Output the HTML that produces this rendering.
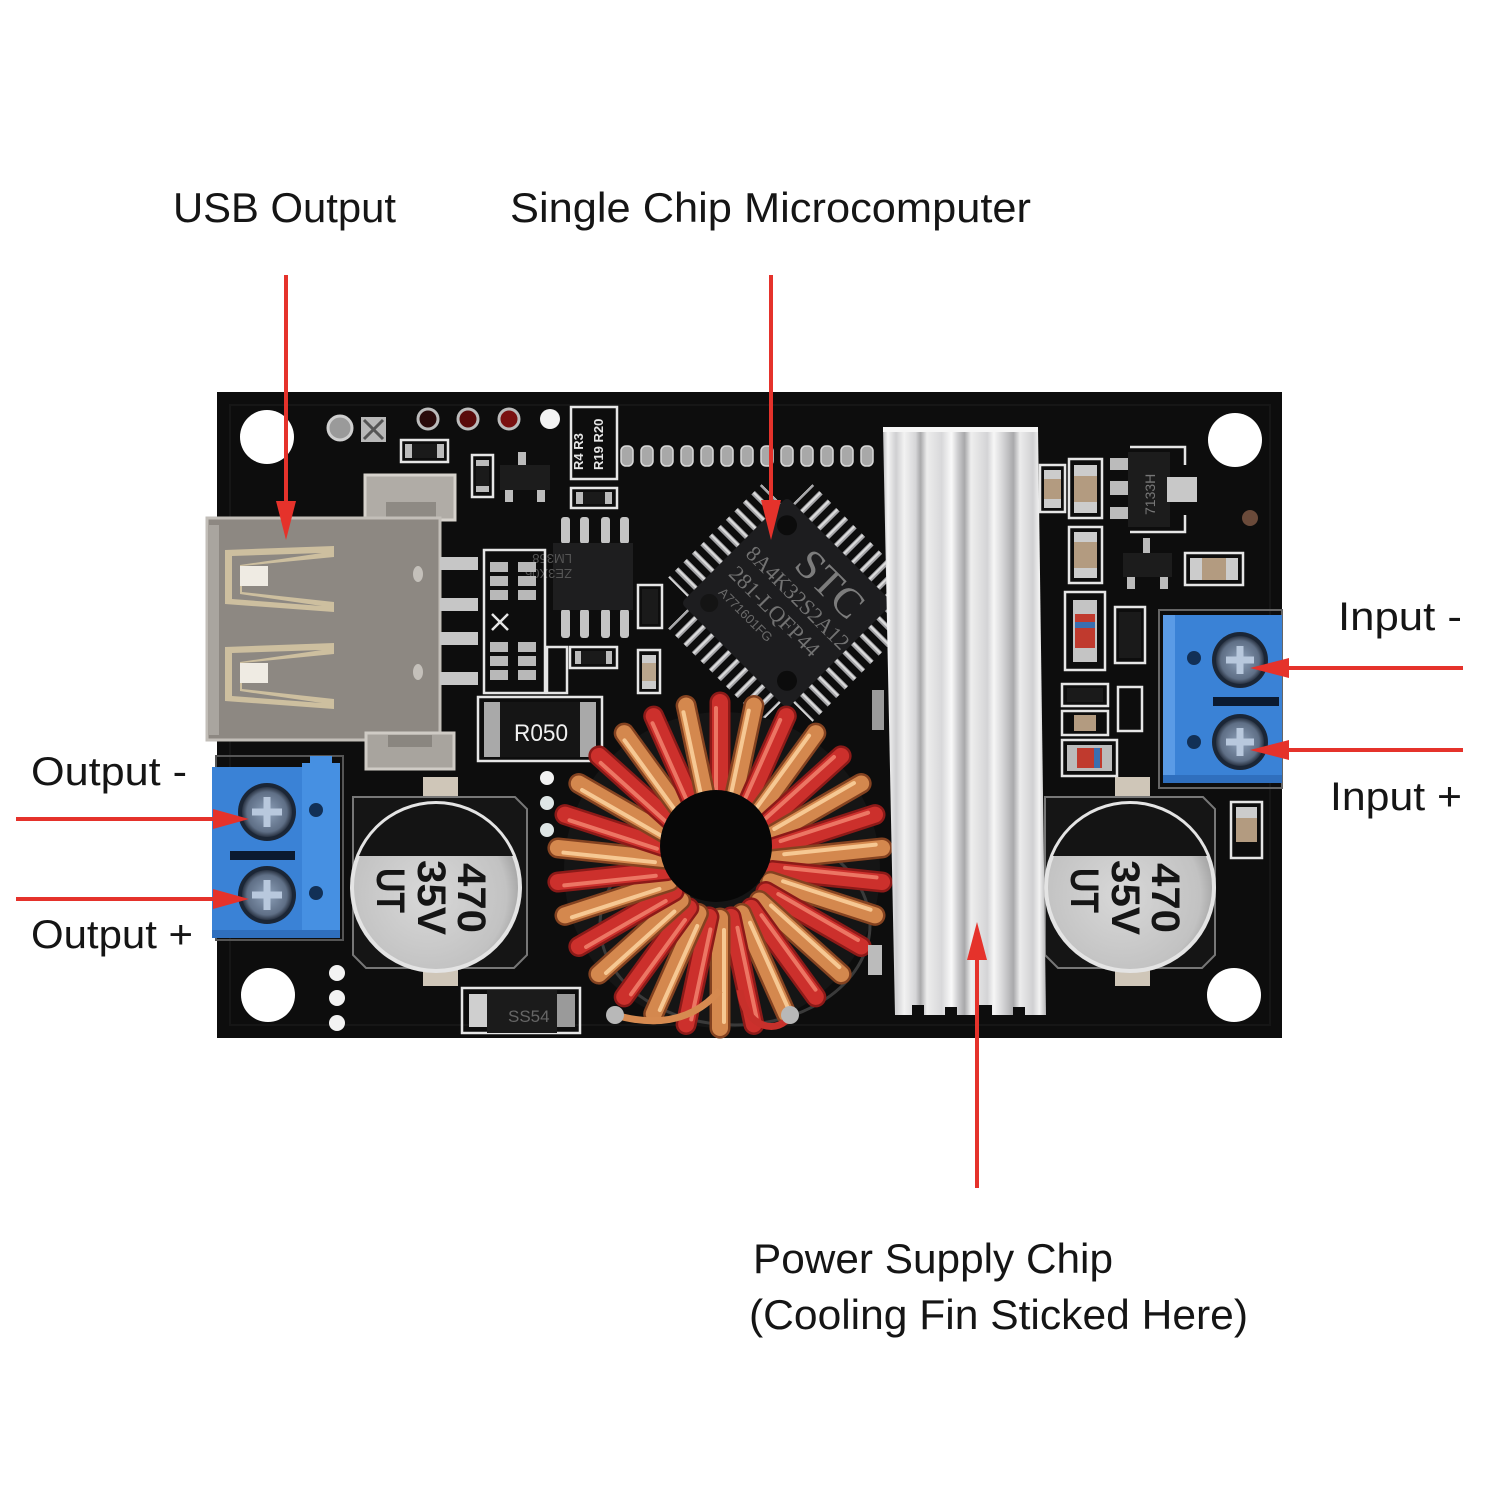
<!DOCTYPE html>
<html><head><meta charset="utf-8">
<style>
html,body{margin:0;padding:0;background:#ffffff;}
svg{display:block;}
.lbl{font-family:"Liberation Sans",Arial,sans-serif;fill:#151515;}
.silk{fill:none;stroke:#e6e6e6;stroke-width:2.5;}
.mono{font-family:"Liberation Sans",Arial,sans-serif;}
</style></head>
<body>
<svg width="1500" height="1500" viewBox="0 0 1500 1500" xmlns="http://www.w3.org/2000/svg">
<defs>
  <linearGradient id="hs" x1="883" y1="0" x2="1046" y2="0" gradientUnits="userSpaceOnUse">
    <stop offset="0" stop-color="#bdbdbf"/>
    <stop offset="0.03" stop-color="#f4f4f4"/>
    <stop offset="0.08" stop-color="#cfcfd1"/>
    <stop offset="0.13" stop-color="#f2f2f2"/>
    <stop offset="0.2" stop-color="#d6d6d8"/>
    <stop offset="0.23" stop-color="#a9a9ab"/>
    <stop offset="0.27" stop-color="#ededed"/>
    <stop offset="0.36" stop-color="#d8d8da"/>
    <stop offset="0.42" stop-color="#fafafa"/>
    <stop offset="0.46" stop-color="#cdcdcf"/>
    <stop offset="0.5" stop-color="#a8a8aa"/>
    <stop offset="0.54" stop-color="#eeeeee"/>
    <stop offset="0.64" stop-color="#d4d4d6"/>
    <stop offset="0.68" stop-color="#f6f6f6"/>
    <stop offset="0.74" stop-color="#d2d2d4"/>
    <stop offset="0.8" stop-color="#a9a9ab"/>
    <stop offset="0.84" stop-color="#ececec"/>
    <stop offset="0.92" stop-color="#d0d0d2"/>
    <stop offset="0.96" stop-color="#f3f3f3"/>
    <stop offset="1" stop-color="#b5b5b7"/>
  </linearGradient>
  <radialGradient id="capg" cx="0.45" cy="0.55" r="0.6">
    <stop offset="0" stop-color="#d8d8d8"/>
    <stop offset="0.8" stop-color="#c2c2c2"/>
    <stop offset="1" stop-color="#9a9a9a"/>
  </radialGradient>
  <radialGradient id="screw" cx="0.5" cy="0.5" r="0.5">
    <stop offset="0" stop-color="#8fa2bb"/>
    <stop offset="0.8" stop-color="#5f6f86"/>
    <stop offset="1" stop-color="#2a3444"/>
  </radialGradient>
  <pattern id="pinV" width="12" height="40" patternUnits="userSpaceOnUse">
    <rect x="3.5" y="0" width="5" height="40" fill="#a5a5a8"/>
    <rect x="4.5" y="0" width="2" height="40" fill="#dcdcdc"/>
  </pattern>
  <pattern id="pinH" width="40" height="12" patternUnits="userSpaceOnUse">
    <rect x="0" y="3.5" width="40" height="5" fill="#a5a5a8"/>
    <rect x="0" y="4.5" width="40" height="2" fill="#dcdcdc"/>
  </pattern>
  <clipPath id="capL"><circle cx="436" cy="887" r="83"/></clipPath>
  <clipPath id="capR"><circle cx="1130" cy="887" r="83"/></clipPath>
  <g id="wR">
    <line x1="720" y1="812" x2="720" y2="702" stroke="#8c1a18" stroke-width="21" stroke-linecap="round"/>
    <line x1="720" y1="812" x2="720" y2="702" stroke="#cc302c" stroke-width="16" stroke-linecap="round"/>
    <line x1="716" y1="800" x2="716" y2="708" stroke="#ec7664" stroke-width="4" stroke-linecap="round"/>
  </g>
  <g id="wC">
    <line x1="720" y1="812" x2="720" y2="702" stroke="#844220" stroke-width="21" stroke-linecap="round"/>
    <line x1="720" y1="812" x2="720" y2="702" stroke="#d4884e" stroke-width="16" stroke-linecap="round"/>
    <line x1="716" y1="800" x2="716" y2="708" stroke="#f6c893" stroke-width="4" stroke-linecap="round"/>
  </g>
</defs>

<rect width="1500" height="1500" fill="#ffffff"/>

<!-- PCB -->
<rect x="217" y="392" width="1065" height="646" fill="#0d0d0d"/>
<path d="M230 405 H1270 V1025 H230 Z" fill="none" stroke="#161616" stroke-width="2"/>

<!-- mounting holes -->
<circle cx="267" cy="437" r="27" fill="#ffffff"/>
<circle cx="1235" cy="440" r="27" fill="#ffffff"/>
<circle cx="268" cy="995" r="27" fill="#ffffff"/>
<circle cx="1234" cy="995" r="27" fill="#ffffff"/>

<!-- top-left small parts -->
<circle cx="340" cy="428" r="12" fill="#9a9a9a" stroke="#cfcfcf" stroke-width="3"/>
<rect x="361" y="417" width="25" height="25" fill="#b8b8b8"/>
<path d="M364 420 L383 439 M383 420 L364 439" stroke="#555" stroke-width="3"/>
<circle cx="428" cy="419" r="10" fill="#2a0a0a" stroke="#bbb" stroke-width="3"/>
<circle cx="468" cy="419" r="10" fill="#5a0a0a" stroke="#bbb" stroke-width="3"/>
<circle cx="509" cy="419" r="10" fill="#7a1010" stroke="#bbb" stroke-width="3"/>
<circle cx="550" cy="419" r="10" fill="#f4f4f4"/>
<rect x="401" y="440" width="47" height="22" class="silk"/>
<rect x="405" y="444" width="39" height="14" fill="#1a1a1a"/>
<rect x="405" y="444" width="7" height="14" fill="#bbb"/><rect x="437" y="444" width="7" height="14" fill="#bbb"/>
<rect x="472" y="455" width="21" height="42" class="silk"/>
<rect x="476" y="460" width="13" height="32" fill="#1a1a1a"/>
<rect x="476" y="460" width="13" height="6" fill="#bbb"/><rect x="476" y="486" width="13" height="6" fill="#bbb"/>
<rect x="500" y="465" width="50" height="25" fill="#1c1c1c"/>
<rect x="518" y="452" width="8" height="13" fill="#bbb"/>
<rect x="505" y="490" width="8" height="12" fill="#bbb"/><rect x="537" y="490" width="8" height="12" fill="#bbb"/>
<rect x="571" y="407" width="46" height="72" class="silk"/>
<text x="583" y="470" transform="rotate(-90 583 470)" class="mono" font-size="13" font-weight="bold" fill="#e6e6e6">R4 R3</text>
<text x="603" y="470" transform="rotate(-90 603 470)" class="mono" font-size="13" font-weight="bold" fill="#e6e6e6">R19 R20</text>
<rect x="571" y="488" width="46" height="20" class="silk"/>
<rect x="576" y="492" width="36" height="12" fill="#1a1a1a"/>
<rect x="576" y="492" width="7" height="12" fill="#bbb"/><rect x="605" y="492" width="7" height="12" fill="#bbb"/>

<!-- header pins -->
<g fill="#a8a8a8" stroke="#d8d8d8" stroke-width="1.5">
<rect x="621" y="446" width="12" height="20" rx="5"/>
<rect x="641" y="446" width="12" height="20" rx="5"/>
<rect x="661" y="446" width="12" height="20" rx="5"/>
<rect x="681" y="446" width="12" height="20" rx="5"/>
<rect x="701" y="446" width="12" height="20" rx="5"/>
<rect x="721" y="446" width="12" height="20" rx="5"/>
<rect x="741" y="446" width="12" height="20" rx="5"/>
<rect x="761" y="446" width="12" height="20" rx="5"/>
<rect x="781" y="446" width="12" height="20" rx="5"/>
<rect x="801" y="446" width="12" height="20" rx="5"/>
<rect x="821" y="446" width="12" height="20" rx="5"/>
<rect x="841" y="446" width="12" height="20" rx="5"/>
<rect x="861" y="446" width="12" height="20" rx="5"/>
</g>

<!-- LM358 -->
<g fill="#c4c4c4">
<rect x="561" y="517" width="9" height="27" rx="3"/><rect x="580" y="517" width="9" height="27" rx="3"/>
<rect x="601" y="517" width="9" height="27" rx="3"/><rect x="620" y="517" width="9" height="27" rx="3"/>
<rect x="561" y="609" width="9" height="29" rx="3"/><rect x="580" y="609" width="9" height="29" rx="3"/>
<rect x="601" y="609" width="9" height="29" rx="3"/><rect x="620" y="609" width="9" height="29" rx="3"/>
</g>
<rect x="553" y="543" width="80" height="67" fill="#1e1e1f"/>
<text x="620" y="600" transform="rotate(180 596 577)" class="mono" font-size="13" fill="#555">LM358</text>
<text x="620" y="585" transform="rotate(180 596 577)" class="mono" font-size="13" fill="#555">ZE3X06</text>

<!-- resistor arrays left of LM358 -->
<rect x="484" y="550" width="61" height="143" class="silk"/>
<g fill="#b8b8b8">
<rect x="490" y="562" width="18" height="10"/><rect x="490" y="576" width="18" height="10"/><rect x="490" y="590" width="18" height="10"/>
<rect x="518" y="562" width="18" height="10"/><rect x="518" y="576" width="18" height="10"/><rect x="518" y="590" width="18" height="10"/>
<rect x="490" y="642" width="18" height="10"/><rect x="490" y="656" width="18" height="10"/><rect x="490" y="670" width="18" height="10"/>
<rect x="518" y="642" width="18" height="10"/><rect x="518" y="656" width="18" height="10"/><rect x="518" y="670" width="18" height="10"/>
</g>
<path d="M492 614 L508 630 M508 614 L492 630" stroke="#e6e6e6" stroke-width="2.5"/>
<rect x="547" y="647" width="20" height="46" class="silk"/>
<rect x="570" y="647" width="47" height="21" class="silk"/>
<rect x="575" y="651" width="37" height="13" fill="#1a1a1a"/>
<rect x="575" y="651" width="6" height="13" fill="#bbb"/><rect x="606" y="651" width="6" height="13" fill="#bbb"/>
<rect x="638" y="585" width="24" height="43" class="silk"/>
<rect x="642" y="589" width="16" height="35" fill="#1a1a1a"/>
<rect x="638" y="650" width="22" height="43" class="silk"/>
<rect x="642" y="655" width="14" height="34" fill="#b9a58c"/>
<rect x="642" y="655" width="14" height="8" fill="#ccc"/><rect x="642" y="681" width="14" height="8" fill="#ccc"/>

<!-- USB top metal tab -->
<rect x="365" y="475" width="90" height="45" fill="#b0aca6" stroke="#d6d2cc" stroke-width="3"/>
<rect x="386" y="502" width="50" height="18" fill="#8e8a84"/>

<!-- USB connector -->
<rect x="207" y="518" width="233" height="222" fill="#8d8882" stroke="#c2beb8" stroke-width="3"/>
<rect x="209" y="525" width="10" height="210" fill="#a9a59f"/>
<polygon points="225,550 334,546 334,557 242,566 242,592 334,602 334,612 225,604" fill="#cdbf9f"/>
<polygon points="232,556 322,553 240,565 240,594 322,606 232,599" fill="#8d8882"/>
<rect x="240" y="566" width="28" height="20" fill="#efebe3"/>
<polygon points="225,647 334,643 334,654 242,663 242,689 334,699 334,709 225,701" fill="#cdbf9f"/>
<polygon points="232,653 322,650 240,662 240,691 322,703 232,696" fill="#8d8882"/>
<rect x="240" y="663" width="28" height="20" fill="#efebe3"/>
<ellipse cx="418" cy="574" rx="5" ry="8" fill="#c4c0ba"/>
<ellipse cx="418" cy="672" rx="5" ry="8" fill="#c4c0ba"/>
<g fill="#c6c6c6">
<rect x="440" y="557" width="38" height="13"/><rect x="440" y="598" width="38" height="13"/>
<rect x="440" y="632" width="38" height="13"/><rect x="440" y="672" width="38" height="13"/>
</g>
<!-- USB bottom tab -->
<rect x="366" y="733" width="88" height="36" fill="#a8a49e" stroke="#cfcbc5" stroke-width="3"/>
<rect x="388" y="735" width="44" height="12" fill="#8a8680"/>

<!-- R050 -->
<rect x="478" y="697" width="124" height="64" class="silk"/>
<rect x="484" y="702" width="112" height="55" fill="#151515"/>
<rect x="484" y="702" width="16" height="55" fill="#a9a9a9"/><rect x="580" y="702" width="16" height="55" fill="#a9a9a9"/>
<text x="514" y="741" class="mono" font-size="24" fill="#f0f0f0" textLength="54" lengthAdjust="spacingAndGlyphs">R050</text>

<!-- left terminal block -->
<rect x="216" y="756" width="127" height="184" fill="none" stroke="#555" stroke-width="2"/>
<rect x="212" y="767" width="92" height="170" fill="#3a82d6"/>
<rect x="302" y="763" width="38" height="174" fill="#4690e2"/>
<rect x="310" y="756" width="22" height="12" fill="#4690e2"/>
<rect x="212" y="930" width="128" height="8" fill="#2f6fbe"/>
<circle cx="267" cy="812" r="29" fill="#1b2636"/>
<circle cx="267" cy="812" r="25" fill="url(#screw)"/>
<path d="M252 812 H282 M267 797 V827" stroke="#b8c8dd" stroke-width="7"/>
<circle cx="267" cy="895" r="29" fill="#1b2636"/>
<circle cx="267" cy="895" r="25" fill="url(#screw)"/>
<path d="M252 895 H282 M267 880 V910" stroke="#b8c8dd" stroke-width="7"/>
<rect x="230" y="851" width="65" height="9" fill="#0b1a30"/>
<circle cx="316" cy="810" r="7" fill="#123056"/>
<circle cx="316" cy="893" r="7" fill="#123056"/>

<!-- right terminal block -->
<rect x="1159" y="610" width="123" height="178" fill="none" stroke="#666" stroke-width="2"/>
<rect x="1163" y="615" width="119" height="168" fill="#3a82d6"/>
<rect x="1163" y="615" width="12" height="168" fill="#5a9be6"/>
<rect x="1163" y="775" width="119" height="8" fill="#2f6fbe"/>
<circle cx="1240" cy="660" r="28" fill="#1b2636"/>
<circle cx="1240" cy="660" r="24" fill="url(#screw)"/>
<path d="M1226 660 H1254 M1240 646 V674" stroke="#b8c8dd" stroke-width="7"/>
<circle cx="1240" cy="742" r="28" fill="#1b2636"/>
<circle cx="1240" cy="742" r="24" fill="url(#screw)"/>
<path d="M1226 742 H1254 M1240 728 V756" stroke="#b8c8dd" stroke-width="7"/>
<rect x="1213" y="697" width="66" height="9" fill="#0b1a30"/>
<circle cx="1194" cy="658" r="7" fill="#123056"/>
<circle cx="1194" cy="742" r="7" fill="#123056"/>

<!-- capacitors -->
<rect x="423" y="777" width="35" height="22" fill="#cfc6b8"/>
<rect x="423" y="966" width="35" height="20" fill="#cfc6b8"/>
<polygon points="353,797 515,797 527,809 527,955 514,968 366,968 353,955" fill="#151515" stroke="#777" stroke-width="2"/>
<circle cx="436" cy="887" r="86" fill="#e4e4e4"/>
<circle cx="436" cy="887" r="82" fill="url(#capg)"/>
<rect x="340" y="790" width="200" height="66" fill="#141414" clip-path="url(#capL)"/>
<g transform="translate(436 887) rotate(90)" font-family="Liberation Sans,Arial,sans-serif" font-weight="bold" font-size="40" fill="#151515">
  <text x="-24" y="-22" textLength="70" lengthAdjust="spacingAndGlyphs">470</text>
  <text x="-27" y="18" textLength="75" lengthAdjust="spacingAndGlyphs">35V</text>
  <text x="-19" y="59" textLength="45" lengthAdjust="spacingAndGlyphs">UT</text>
</g>

<rect x="1115" y="777" width="35" height="22" fill="#cfc6b8"/>
<rect x="1115" y="966" width="35" height="20" fill="#cfc6b8"/>
<polygon points="1045,797 1203,797 1215,809 1215,955 1202,968 1058,968 1045,955" fill="#151515" stroke="#777" stroke-width="2"/>
<circle cx="1130" cy="887" r="86" fill="#e4e4e4"/>
<circle cx="1130" cy="887" r="82" fill="url(#capg)"/>
<rect x="1030" y="790" width="200" height="66" fill="#141414" clip-path="url(#capR)"/>
<g transform="translate(1130 887) rotate(90)" font-family="Liberation Sans,Arial,sans-serif" font-weight="bold" font-size="40" fill="#151515">
  <text x="-24" y="-22" textLength="70" lengthAdjust="spacingAndGlyphs">470</text>
  <text x="-27" y="18" textLength="75" lengthAdjust="spacingAndGlyphs">35V</text>
  <text x="-19" y="59" textLength="45" lengthAdjust="spacingAndGlyphs">UT</text>
</g>

<!-- white dots -->
<circle cx="547" cy="778" r="7" fill="#f2f2f2"/>
<circle cx="547" cy="803" r="7" fill="#dfe6e6"/>
<circle cx="547" cy="830" r="7" fill="#dfe6e6"/>
<circle cx="337" cy="973" r="8" fill="#f2f2f2"/>
<circle cx="337" cy="998" r="8" fill="#f2f2f2"/>
<circle cx="337" cy="1023" r="8" fill="#f2f2f2"/>

<!-- SS54 -->
<rect x="462" y="988" width="118" height="45" class="silk"/>
<rect x="469" y="994" width="18" height="33" fill="#cfcfcf"/>
<rect x="487" y="990" width="70" height="43" fill="#1b1b1b"/>
<rect x="557" y="994" width="18" height="33" fill="#9a9a9a"/>
<text x="508" y="1022" class="mono" font-size="17" fill="#666">SS54</text>

<!-- STC chip -->
<g transform="translate(787 603) rotate(45)">
  <rect x="-66" y="-102" width="132" height="30" fill="url(#pinV)"/>
  <rect x="-66" y="72" width="132" height="30" fill="url(#pinV)"/>
  <rect x="-102" y="-66" width="30" height="132" fill="url(#pinH)"/>
  <rect x="72" y="-66" width="30" height="132" fill="url(#pinH)"/>
  <rect x="-75" y="-75" width="150" height="150" rx="5" fill="#1d1d1f"/>
  <circle cx="-55" cy="-55" r="10" fill="#0c0c0c"/>
  <circle cx="-55" cy="55" r="9" fill="#141414"/>
  <circle cx="55" cy="55" r="10" fill="#0c0c0c"/>
  <text x="-22" y="-30" font-family="Liberation Serif,serif" font-size="42" fill="#7c7c7c" textLength="78" lengthAdjust="spacingAndGlyphs">STC</text>
  <text x="-64" y="-4" font-family="Liberation Serif,serif" font-size="22" fill="#727272" textLength="136" lengthAdjust="spacingAndGlyphs">8A4K32S2A12</text>
  <text x="-62" y="22" font-family="Liberation Serif,serif" font-size="22" fill="#727272" textLength="118" lengthAdjust="spacingAndGlyphs">281-LQFP44</text>
  <text x="-56" y="42" font-family="Liberation Sans,sans-serif" font-size="13" fill="#6a6a6a" textLength="70" lengthAdjust="spacingAndGlyphs">A771601FG</text>
</g>

<!-- toroid inductor -->
<circle cx="722" cy="870" r="158" fill="#151515"/>
<ellipse cx="735" cy="925" rx="135" ry="100" fill="none" stroke="#3a3a3a" stroke-width="3"/>
<use href="#wR" transform="rotate(0 720 865)"/>
<use href="#wC" transform="rotate(12 720 865)"/>
<use href="#wR" transform="rotate(24 720 865)"/>
<use href="#wC" transform="rotate(36 720 865)"/>
<use href="#wR" transform="rotate(48 720 865)"/>
<use href="#wC" transform="rotate(60 720 865)"/>
<use href="#wR" transform="rotate(72 720 865)"/>
<use href="#wC" transform="rotate(84 720 865)"/>
<use href="#wR" transform="rotate(96 720 865)"/>
<use href="#wC" transform="rotate(108 720 865)"/>
<use href="#wR" transform="rotate(120 720 865)"/>
<use href="#wC" transform="rotate(132 720 865)"/>
<use href="#wR" transform="rotate(144 720 865)"/>
<use href="#wC" transform="rotate(156 720 865)"/>
<use href="#wR" transform="rotate(168 720 865)"/>
<use href="#wC" transform="rotate(180 720 865)"/>
<use href="#wR" transform="rotate(192 720 865)"/>
<use href="#wC" transform="rotate(204 720 865)"/>
<use href="#wR" transform="rotate(216 720 865)"/>
<use href="#wC" transform="rotate(228 720 865)"/>
<use href="#wR" transform="rotate(240 720 865)"/>
<use href="#wC" transform="rotate(252 720 865)"/>
<use href="#wR" transform="rotate(264 720 865)"/>
<use href="#wC" transform="rotate(276 720 865)"/>
<use href="#wR" transform="rotate(288 720 865)"/>
<use href="#wC" transform="rotate(300 720 865)"/>
<use href="#wR" transform="rotate(312 720 865)"/>
<use href="#wC" transform="rotate(324 720 865)"/>
<use href="#wR" transform="rotate(336 720 865)"/>
<use href="#wC" transform="rotate(348 720 865)"/>
<circle cx="716" cy="846" r="56" fill="#070707"/>
<path d="M615 1015 C650 1025 690 1025 720 990" fill="none" stroke="#d68a50" stroke-width="7"/>
<path d="M740 990 C745 1030 780 1035 790 1015" fill="none" stroke="#c7302b" stroke-width="7"/>
<circle cx="615" cy="1015" r="9" fill="#b8b8b8"/>
<circle cx="790" cy="1015" r="9" fill="#b8b8b8"/>

<!-- small parts near heatsink left -->
<rect x="868" y="945" width="14" height="30" fill="#bbb"/>
<rect x="872" y="690" width="12" height="40" fill="#9a9a9a"/>

<!-- heatsink -->
<polygon points="883,427 1038,427 1046,1015 895,1015" fill="url(#hs)"/>
<polygon points="883,427 1038,427 1038,432 883,432" fill="#f6f6f6"/>
<g fill="#0d0d0d">
<rect x="912" y="1005" width="12" height="11"/>
<rect x="945" y="1007" width="12" height="9"/>
<rect x="978" y="1005" width="14" height="11"/>
<rect x="1013" y="1007" width="12" height="9"/>
</g>

<!-- right side components -->
<rect x="1040" y="465" width="25" height="47" class="silk"/>
<rect x="1044" y="470" width="17" height="38" fill="#b39b80"/>
<rect x="1044" y="470" width="17" height="9" fill="#ccc"/><rect x="1044" y="499" width="17" height="9" fill="#ccc"/>
<rect x="1069" y="459" width="33" height="59" class="silk"/>
<rect x="1074" y="465" width="23" height="48" fill="#b39b80"/>
<rect x="1074" y="465" width="23" height="11" fill="#ccc"/><rect x="1074" y="502" width="23" height="11" fill="#ccc"/>
<path d="M1130 447 H1185 V465 M1130 532 H1185 V515" class="silk"/>
<rect x="1110" y="458" width="22" height="12" fill="#bbb"/>
<rect x="1110" y="481" width="22" height="14" fill="#bbb"/>
<rect x="1110" y="507" width="22" height="12" fill="#bbb"/>
<rect x="1128" y="452" width="42" height="75" fill="#1c1c1c"/>
<rect x="1167" y="477" width="30" height="25" fill="#c8c8c8"/>
<text x="1155" y="515" transform="rotate(-90 1155 515)" class="mono" font-size="14" fill="#777">7133H</text>
<rect x="1069" y="527" width="33" height="56" class="silk"/>
<rect x="1074" y="532" width="23" height="46" fill="#b39b80"/>
<rect x="1074" y="532" width="23" height="10" fill="#ccc"/><rect x="1074" y="568" width="23" height="10" fill="#ccc"/>
<rect x="1123" y="553" width="49" height="24" fill="#1c1c1c"/>
<rect x="1143" y="538" width="7" height="15" fill="#bbb"/>
<rect x="1127" y="577" width="8" height="12" fill="#bbb"/><rect x="1160" y="577" width="8" height="12" fill="#bbb"/>
<rect x="1185" y="553" width="58" height="32" class="silk"/>
<rect x="1190" y="558" width="48" height="22" fill="#b39b80"/>
<rect x="1190" y="558" width="12" height="22" fill="#ccc"/><rect x="1226" y="558" width="12" height="22" fill="#ccc"/>
<circle cx="1250" cy="518" r="8" fill="#6a4a3a"/>
<rect x="1065" y="592" width="40" height="78" class="silk"/>
<rect x="1073" y="600" width="24" height="62" fill="#c4c4c4"/>
<rect x="1075" y="614" width="20" height="34" fill="#c03a2e"/>
<rect x="1075" y="622" width="20" height="6" fill="#3a6fb0"/>
<rect x="1115" y="607" width="30" height="56" class="silk"/>
<rect x="1119" y="612" width="22" height="46" fill="#1a1a1a"/>
<rect x="1062" y="684" width="46" height="22" class="silk"/>
<rect x="1067" y="688" width="36" height="14" fill="#1a1a1a"/>
<rect x="1118" y="687" width="24" height="44" class="silk"/>
<rect x="1062" y="711" width="46" height="24" class="silk"/>
<rect x="1074" y="715" width="22" height="16" fill="#b39b80"/>
<rect x="1062" y="740" width="55" height="36" class="silk"/>
<rect x="1067" y="745" width="45" height="26" fill="#bbb"/>
<rect x="1077" y="748" width="25" height="20" fill="#c03a2e"/>
<rect x="1094" y="748" width="6" height="20" fill="#3a6fb0"/>
<rect x="1231" y="802" width="31" height="56" class="silk"/>
<rect x="1236" y="818" width="21" height="24" fill="#b39b80"/>
<rect x="1236" y="807" width="21" height="11" fill="#ccc"/>

<!-- red arrows -->
<g fill="#e5322b" stroke="none">
  <rect x="284" y="275" width="4" height="230"/>
  <polygon points="276,501 296,501 286,540"/>
  <rect x="769" y="275" width="4" height="228"/>
  <polygon points="761,500 781,500 771,540"/>
  <rect x="1285" y="666" width="178" height="4"/>
  <polygon points="1289,658 1289,678 1250,668"/>
  <rect x="1285" y="748" width="178" height="4"/>
  <polygon points="1289,740 1289,760 1250,750"/>
  <rect x="16" y="817" width="200" height="4"/>
  <polygon points="213,809 213,829 249,819"/>
  <rect x="16" y="897" width="200" height="4"/>
  <polygon points="213,889 213,909 249,899"/>
  <rect x="975" y="956" width="4" height="232"/>
  <polygon points="967,960 987,960 977,922"/>
</g>

<!-- labels -->
<text class="lbl" x="173" y="222" font-size="42" textLength="223" lengthAdjust="spacingAndGlyphs">USB Output</text>
<text class="lbl" x="510" y="222" font-size="42" textLength="521" lengthAdjust="spacingAndGlyphs">Single Chip Microcomputer</text>
<text class="lbl" x="1338" y="630" font-size="40" textLength="124" lengthAdjust="spacingAndGlyphs">Input -</text>
<text class="lbl" x="1330" y="810" font-size="40" textLength="132" lengthAdjust="spacingAndGlyphs">Input +</text>
<text class="lbl" x="31" y="785" font-size="40" textLength="156" lengthAdjust="spacingAndGlyphs">Output -</text>
<text class="lbl" x="31" y="948" font-size="40" textLength="162" lengthAdjust="spacingAndGlyphs">Output +</text>
<text class="lbl" x="753" y="1273" font-size="42" textLength="360" lengthAdjust="spacingAndGlyphs">Power Supply Chip</text>
<text class="lbl" x="749" y="1329" font-size="42" textLength="499" lengthAdjust="spacingAndGlyphs">(Cooling Fin Sticked Here)</text>
</svg>
</body></html>
